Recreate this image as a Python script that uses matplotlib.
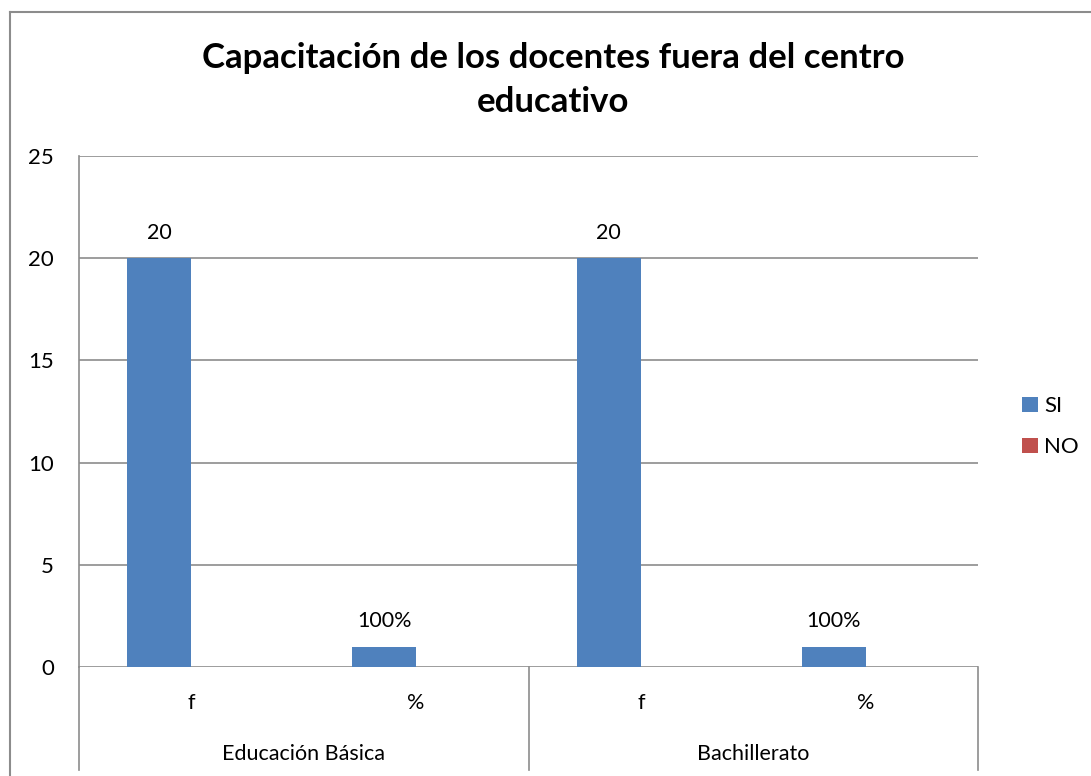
import numpy as np
import matplotlib.pyplot as plt
from matplotlib.lines import Line2D

plt.rcParams['font.family'] = ['Lato', 'DejaVu Sans']

# data
groups = ['Educación Básica', 'Bachillerato']
sub_labels = ['f', '%', 'f', '%']
si_values = [20, 1, 20, 1]
no_values = [0, 0, 0, 0]
si_labels = ['20', '100%', '20', '100%']
series_names = ['SI', 'NO']
colors = ['#4F81BD', '#C0504D']

fig = plt.figure(figsize=(10.91, 7.76), dpi=100)
ax = fig.add_axes([79 / 1091, 109 / 776, 899 / 1091, 511 / 776])

x = np.arange(len(sub_labels))
w = 0.285
b1 = ax.bar(x - w / 2, si_values, w, color=colors[0], label=series_names[0], zorder=3)
b2 = ax.bar(x + w / 2, no_values, w, color=colors[1], label=series_names[1], zorder=3)

for rect, lab in zip(b1, si_labels):
    ax.text(rect.get_x() + rect.get_width() / 2, rect.get_height() + 0.75, lab,
            ha='center', va='bottom', fontsize=15.5)

ax.set_xlim(-0.5, 3.5)
ax.set_ylim(0, 25)
ax.set_yticks(range(0, 26, 5))
ax.yaxis.grid(True, color='#8C8C8C', linewidth=1.2)
ax.set_axisbelow(True)
for s in ['top', 'right', 'bottom']:
    ax.spines[s].set_visible(False)
ax.spines['left'].set_color('#8C8C8C')
ax.spines['left'].set_linewidth(1.2)
ax.tick_params(axis='y', length=0, pad=18, labelsize=16)
ax.set_xticks([])

# multi-level category axis
trans = ax.get_xaxis_transform()
for xi, lab in zip(x, sub_labels):
    ax.text(xi, -0.07, lab, transform=trans, ha='center', va='center', fontsize=15.5)
for gi, g in enumerate(groups):
    ax.text(2 * gi + 0.5, -0.17, g, transform=trans, ha='center', va='center', fontsize=15.5)
for xs in [-0.5, 1.5, 3.5]:
    ax.add_line(Line2D([xs, xs], [0, -0.202], transform=trans, color='#8C8C8C',
                       linewidth=1.2, clip_on=False))

ax.legend(loc='center left', bbox_to_anchor=(1.027, 0.47), frameon=False,
          fontsize=16, handlelength=0.7, handleheight=0.7, handletextpad=0.3,
          labelspacing=0.95)

fig.text(0.5 + 8 / 1091, 1 - 80 / 776,
         'Capacitación de los docentes fuera del centro\neducativo',
         ha='center', va='center', fontsize=25, fontweight='bold', linespacing=1.45)

# chart outer border
fig.add_artist(Line2D([10 / 1091, 10 / 1091], [0, 1 - 12 / 776], color='#8C8C8C', linewidth=1.5))
fig.add_artist(Line2D([10 / 1091, 1], [1 - 12 / 776, 1 - 12 / 776], color='#8C8C8C', linewidth=1.5))

fig.savefig('out.png', dpi=100)
